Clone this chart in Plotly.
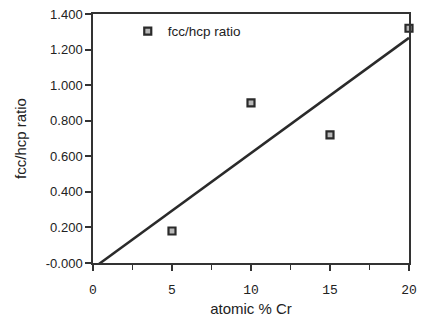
import numpy as np
import plotly.graph_objects as go

atomic_cr = [5, 10, 15, 20]
ratio = [0.18, 0.90, 0.72, 1.32]
y_tickvals = [0.0, 0.2, 0.4, 0.6, 0.8, 1.0, 1.2, 1.4]
y_ticktext = ["-0.000", "0.200", "0.400", "0.600", "0.800", "1.000", "1.200", "1.400"]
x_tickvals = [0, 5, 10, 15, 20]

slope, intercept = np.polyfit(atomic_cr, ratio, 1)
fit_x = np.array([0.0, 20.0])
fit_y = slope * fit_x + intercept

fig = go.Figure()
fig.add_trace(go.Scatter(x=fit_x, y=fit_y, mode="lines",
                         line=dict(color="#2a2a2a", width=2.5), showlegend=False))
fig.add_trace(go.Scatter(x=atomic_cr, y=ratio, mode="markers", name="fcc/hcp ratio",
                         marker=dict(symbol="square", size=7, color="#b8b8b8",
                                     line=dict(color="#2a2a2a", width=2.2)),
                         cliponaxis=False))

fig.update_layout(
    width=424, height=324,
    margin=dict(l=93, r=8, t=7, b=61),
    paper_bgcolor="white", plot_bgcolor="white",
    font=dict(family="Liberation Sans", color="#222", size=13),
    legend=dict(x=0.11, y=0.93, xanchor="left", yanchor="middle",
                bgcolor="rgba(0,0,0,0)", font=dict(size=13.5)),
    xaxis=dict(range=[0, 20], tickvals=x_tickvals, ticks="outside", ticklen=6,
               tickcolor="#333", tickwidth=1.5,
               minor=dict(tickvals=[2.5, 7.5, 12.5, 17.5], ticks="outside", ticklen=5,
                          tickcolor="#333", tickwidth=1.2),
               showline=True, linecolor="#333", linewidth=1.5, mirror=True,
               showgrid=False, zeroline=False,
               tickfont=dict(family="Liberation Mono", size=13),
               ticklabelstandoff=8,
               title=dict(text="atomic % Cr", font=dict(size=15), standoff=6)),
    yaxis=dict(range=[0, 1.4], tickvals=y_tickvals, ticktext=y_ticktext,
               ticks="outside", ticklen=6, tickcolor="#333", tickwidth=1.5,
               showline=True, linecolor="#333", linewidth=1.5, mirror=True,
               showgrid=False, zeroline=False,
               tickfont=dict(size=13),
               title=dict(text="fcc/hcp ratio", font=dict(size=15), standoff=16)),
)

fig.write_html("out.html")
